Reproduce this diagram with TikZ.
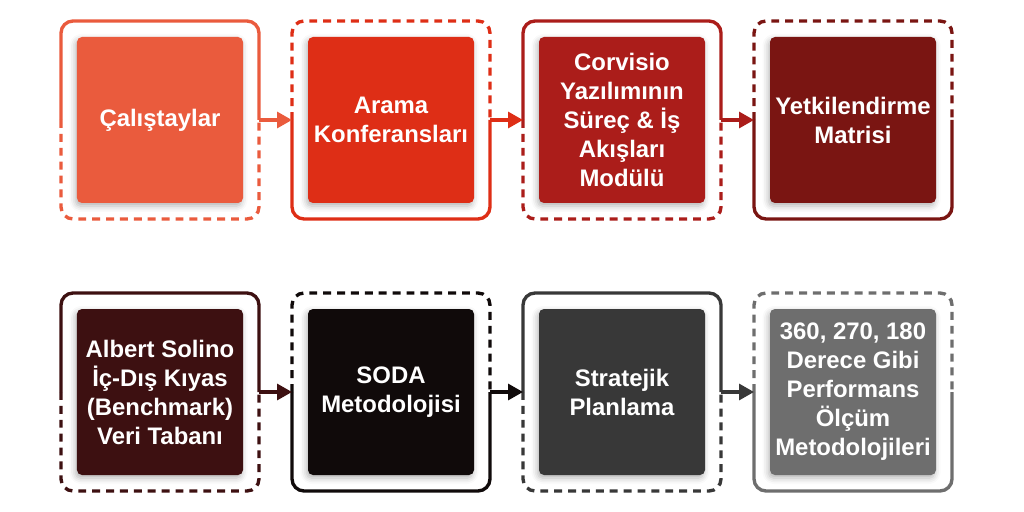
\documentclass[tikz,border=0pt]{standalone}
\usepackage{fontspec}
\setmainfont{Liberation Sans}
\usepackage{tikz}
\usetikzlibrary{positioning,shapes,shadows,shadows.blur,arrows.meta,calc}

\definecolor{cA}{RGB}{234,91,61}
\definecolor{cB}{RGB}{222,46,22}
\definecolor{cC}{RGB}{171,29,26}
\definecolor{cD}{RGB}{122,21,18}
\definecolor{cE}{RGB}{61,16,17}
\definecolor{cF}{RGB}{16,10,10}
\definecolor{cG}{RGB}{56,56,56}
\definecolor{cH}{RGB}{110,110,110}

\tikzset{
  box/.style = {rectangle, rounded corners=0.1cm, minimum size=3.32cm, inner sep=2pt,
    outer sep=0.32cm, align=center, text=white,
    font=\fontsize{13.6pt}{16.5pt}\selectfont\bfseries,
    blur shadow={shadow xshift=-0.03cm, shadow yshift=-0.06cm, shadow blur radius=0.12cm, shadow opacity=30}},
  frame/.style = {line width=1.9pt, rounded corners=0.24cm},
  gap/.style = {dash pattern=on 4.5pt off 3.4pt},
  flow/.style = {line width=1.9pt, -{Triangle[length=0.3cm, width=0.32cm]}}
}

\begin{document}
\begin{tikzpicture}

\useasboundingbox (0,0) rectangle (20.48,10.24);

% first row
\node[box, fill=cA] (calistay) at (3.2,7.84) {Çalıştaylar};
\node[box, fill=cB, right=0.66cm of calistay] (arama) {Arama\\Konferansları};
\node[box, fill=cC, right=0.66cm of arama] (surec) {Corvisio\\Yazılımının\\Süreç \& İş\\Akışları\\Modülü};
\node[box, fill=cD, right=0.66cm of surec] (yetki) {Yetkilendirme\\Matrisi};

% second row
\node[box, fill=cE, below=1.48cm of calistay] (albert) {Albert Solino\\İç-Dış Kıyas\\(Benchmark)\\Veri Tabanı};
\node[box, fill=cF, right=0.66cm of albert] (soda) {SODA\\Metodolojisi};
\node[box, fill=cG, right=0.66cm of soda] (strateji) {Stratejik\\Planlama};
\node[box, fill=cH, right=0.66cm of strateji] (olcum) {360, 270, 180\\Derece Gibi\\Performans\\Ölçüm\\Metodolojileri};

% frames: solid top, dashed bottom
\foreach \n/\c in {calistay/cA, surec/cC, albert/cE, strateji/cG} {
  \draw[frame, color=\c] ($(\n)+(-1.98,0)$) -- ($(\n)+(-1.98,1.98)$) -- ($(\n)+(1.98,1.98)$) -- ($(\n)+(1.98,0)$);
  \draw[frame, gap, color=\c] ($(\n)+(-1.98,0)$) -- ($(\n)+(-1.98,-1.98)$) -- ($(\n)+(1.98,-1.98)$) -- ($(\n)+(1.98,0)$);
}

% frames: dashed top, solid bottom
\foreach \n/\c in {arama/cB, yetki/cD, soda/cF, olcum/cH} {
  \draw[frame, gap, color=\c] ($(\n)+(-1.98,0)$) -- ($(\n)+(-1.98,1.98)$) -- ($(\n)+(1.98,1.98)$) -- ($(\n)+(1.98,0)$);
  \draw[frame, color=\c] ($(\n)+(-1.98,0)$) -- ($(\n)+(-1.98,-1.98)$) -- ($(\n)+(1.98,-1.98)$) -- ($(\n)+(1.98,0)$);
}

\draw[flow, color=cA] (calistay.east) -- (arama.west);
\draw[flow, color=cB] (arama.east) -- (surec.west);
\draw[flow, color=cC] (surec.east) -- (yetki.west);

\draw[flow, color=cE] (albert.east) -- (soda.west);
\draw[flow, color=cF] (soda.east) -- (strateji.west);
\draw[flow, color=cG] (strateji.east) -- (olcum.west);

\end{tikzpicture}
\end{document}
